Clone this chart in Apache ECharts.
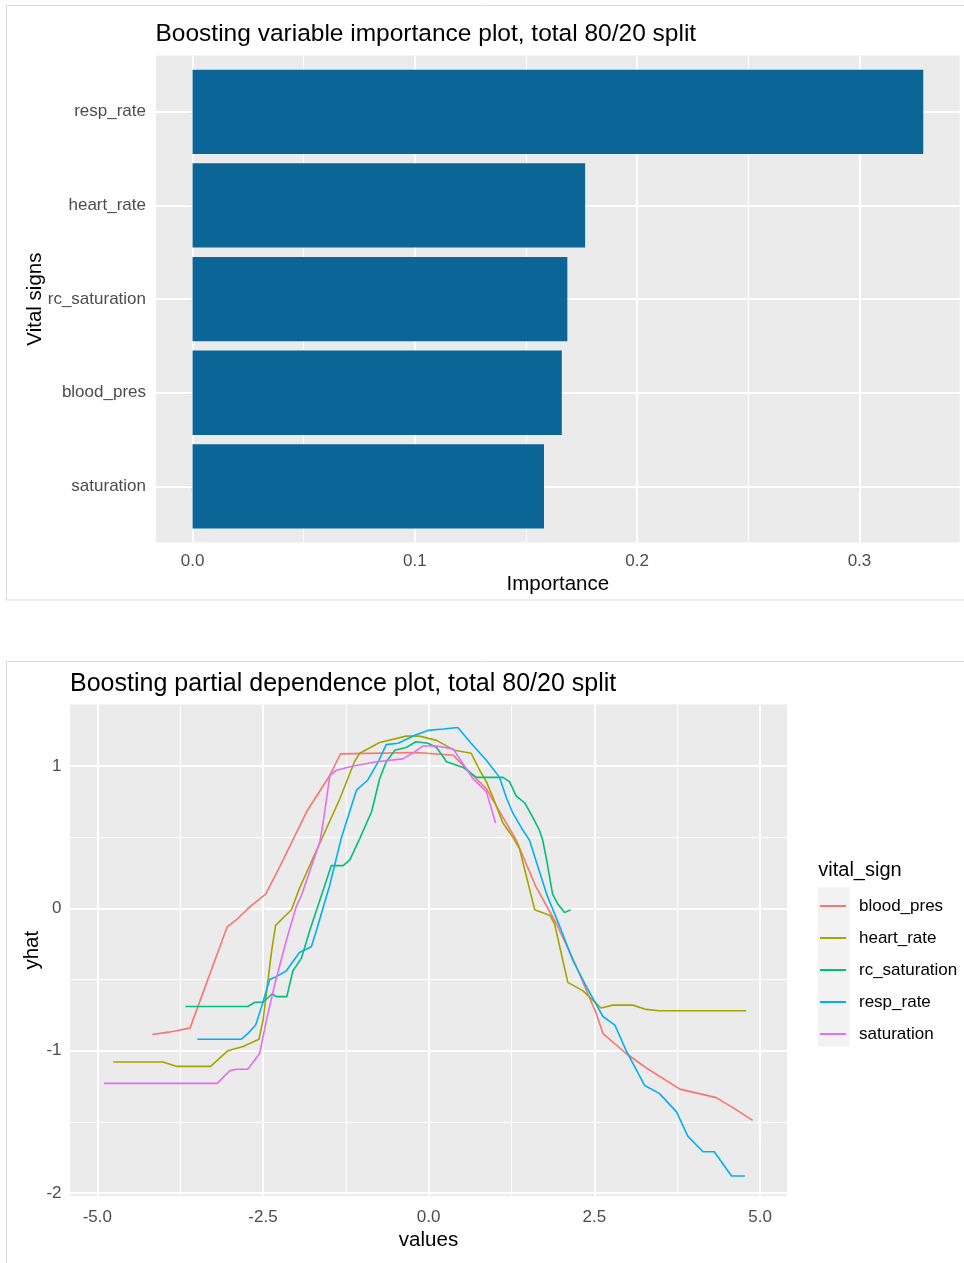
<!DOCTYPE html>
<html><head><meta charset="utf-8">
<script src="https://cdn.jsdelivr.net/npm/echarts@6/dist/echarts.min.js"></script>
<style>html,body{margin:0;padding:0;background:#fff}#c{width:964px;height:1263px}</style>
</head><body><div id="c"></div>
<script>
// ---------- data: variable importance ----------
const categories = ['saturation', 'blood_pres', 'rc_saturation', 'heart_rate', 'resp_rate'];
const importance = [0.1581, 0.1661, 0.1686, 0.1766, 0.3287];
const impMajorTicks = [0, 0.1, 0.2, 0.3];
const impMinorTicks = [0.05, 0.15, 0.25];

// ---------- data: partial dependence ----------
const seriesNames = ['blood_pres', 'heart_rate', 'rc_saturation', 'resp_rate', 'saturation'];
const seriesColors = ['#F8766D', '#A3A500', '#00BF7D', '#00B0F6', '#E76BF3'];
const blood_pres = [[-4.17,-0.886],[-3.93,-0.87],[-3.80,-0.86],[-3.60,-0.84],[-3.04,-0.13],[-2.90,-0.08],[-2.70,0.01],[-2.46,0.10],[-2.25,0.29],[-1.84,0.68],[-1.49,0.935],[-1.33,1.085],[-0.19,1.095],[-0.03,1.09],[0.37,1.076],[0.57,0.98],[0.87,0.84],[1.07,0.68],[1.32,0.48],[1.62,0.15],[1.93,-0.11],[2.23,-0.41],[2.53,-0.74],[2.63,-0.88],[2.98,-1.02],[3.28,-1.12],[3.79,-1.27],[4.34,-1.33],[4.59,-1.40],[4.89,-1.49]];
const heart_rate = [[-4.76,-1.08],[-4.01,-1.08],[-3.81,-1.11],[-3.29,-1.11],[-3.03,-1.00],[-2.80,-0.97],[-2.56,-0.92],[-2.50,-0.79],[-2.37,-0.30],[-2.31,-0.12],[-2.07,-0.01],[-1.95,0.14],[-1.34,0.77],[-1.12,1.03],[-1.04,1.09],[-0.74,1.165],[-0.34,1.21],[-0.14,1.21],[0.12,1.18],[0.39,1.11],[0.64,1.09],[0.77,0.97],[0.87,0.89],[0.97,0.78],[1.12,0.60],[1.27,0.50],[1.37,0.42],[1.60,-0.01],[1.83,-0.05],[1.90,-0.11],[2.10,-0.52],[2.33,-0.58],[2.60,-0.70],[2.78,-0.68],[3.08,-0.68],[3.28,-0.71],[3.48,-0.72],[4.79,-0.72]];
const rc_saturation = [[-3.67,-0.69],[-2.73,-0.69],[-2.62,-0.66],[-2.50,-0.66],[-2.36,-0.60],[-2.30,-0.62],[-2.14,-0.62],[-2.05,-0.44],[-1.92,-0.35],[-1.79,-0.15],[-1.64,0.06],[-1.47,0.30],[-1.29,0.30],[-1.19,0.34],[-1.04,0.49],[-0.86,0.68],[-0.74,0.91],[-0.64,1.03],[-0.51,1.11],[-0.34,1.13],[-0.19,1.17],[-0.01,1.16],[0.12,1.13],[0.27,1.03],[0.52,0.99],[0.72,0.92],[1.12,0.92],[1.22,0.89],[1.32,0.79],[1.45,0.74],[1.57,0.64],[1.67,0.55],[1.72,0.48],[1.78,0.34],[1.87,0.10],[1.95,0.03],[2.05,-0.03],[2.14,-0.01]];
const resp_rate = [[-3.49,-0.92],[-2.83,-0.92],[-2.73,-0.88],[-2.61,-0.82],[-2.52,-0.69],[-2.40,-0.50],[-2.30,-0.48],[-2.15,-0.44],[-1.95,-0.31],[-1.77,-0.27],[-1.69,-0.15],[-1.59,0.01],[-1.50,0.15],[-1.32,0.49],[-1.09,0.83],[-0.92,0.90],[-0.76,1.03],[-0.64,1.15],[-0.46,1.16],[-0.19,1.22],[-0.01,1.25],[0.22,1.26],[0.44,1.27],[0.64,1.16],[0.87,1.04],[1.07,0.92],[1.17,0.78],[1.27,0.67],[1.42,0.55],[1.52,0.48],[1.65,0.29],[1.78,0.10],[1.98,-0.13],[2.18,-0.37],[2.38,-0.55],[2.63,-0.76],[2.81,-0.82],[2.98,-1.00],[3.26,-1.245],[3.48,-1.30],[3.74,-1.43],[3.91,-1.60],[4.14,-1.71],[4.31,-1.71],[4.57,-1.88],[4.77,-1.88]];
const saturation = [[-4.90,-1.23],[-3.19,-1.23],[-3.00,-1.14],[-2.90,-1.13],[-2.73,-1.13],[-2.55,-1.02],[-2.45,-0.79],[-2.32,-0.53],[-2.15,-0.23],[-2.00,0.01],[-1.92,0.09],[-1.64,0.47],[-1.59,0.61],[-1.49,0.935],[-1.39,0.97],[-1.19,0.995],[-0.79,1.03],[-0.39,1.05],[-0.24,1.09],[-0.09,1.14],[0.12,1.14],[0.37,1.12],[0.47,1.05],[0.67,0.91],[0.87,0.82],[1.01,0.60]];
const pdSeriesData = [blood_pres, heart_rate, rc_saturation, resp_rate, saturation];
const pdMajorX = [-5, -2.5, 0, 2.5, 5];
const pdMinorX = [-3.75, -1.25, 1.25, 3.75];
const pdMajorY = [-2, -1, 0, 1];
const pdMinorY = [-1.5, -0.5, 0.5];

// ---------- styling ----------
const FONT = "'Liberation Sans', Arial, sans-serif";
const PANEL = '#EBEBEB';
const TICK = '#333333';
const TICKLAB = '#4D4D4D';

function gridLines(xs, ys) {
  const d = [];
  xs.major.forEach(v => d.push({ xAxis: v, lineStyle: { width: 2 } }));
  xs.minor.forEach(v => d.push({ xAxis: v, lineStyle: { width: 1 } }));
  ys.major.forEach(v => d.push({ yAxis: v, lineStyle: { width: 2 } }));
  ys.minor.forEach(v => d.push({ yAxis: v, lineStyle: { width: 1 } }));
  return d;
}
function gridSeries(xi, yi, data) {
  return {
    type: 'line', data: [], xAxisIndex: xi, yAxisIndex: yi, z: 1, silent: true,
    markLine: {
      z: 1, silent: true, symbol: ['none', 'none'], animation: false,
      label: { show: false }, emphasis: { disabled: true },
      lineStyle: { color: '#FFFFFF', type: 'solid', width: 2, opacity: 1 },
      data: data
    }
  };
}

const chart = echarts.init(document.getElementById('c'), null, { renderer: 'canvas' });

const catCenters = categories.map((c, i) => i);

const option = {
  animation: false,
  backgroundColor: '#FFFFFF',
  textStyle: { fontFamily: FONT },
  title: [
    { text: 'Boosting variable importance plot, total 80/20 split', left: 155.5, top: 21.5, padding: 0,
      textStyle: { fontSize: 24.5, fontWeight: 'normal', color: '#000', fontFamily: FONT, lineHeight: 24.5 } },
    { text: 'Boosting partial dependence plot, total 80/20 split', left: 70, top: 672, padding: 0,
      textStyle: { fontSize: 25, fontWeight: 'normal', color: '#000', fontFamily: FONT, lineHeight: 25 } }
  ],
  graphic: [
    { type: 'rect', z: -10, shape: { x: 6.5, y: 5.5, width: 980, height: 594.5 }, style: { fill: 'none', stroke: '#DADADA', lineWidth: 1 } },
    { type: 'rect', z: -10, shape: { x: 6.5, y: 661.5, width: 980, height: 700 }, style: { fill: 'none', stroke: '#DADADA', lineWidth: 1 } },
    { type: 'rect', z: -5, shape: { x: 817.7, y: 887.5, width: 31.7, height: 159 }, style: { fill: '#F2F2F2' } },
    { type: 'text', z: 5, style: { text: 'vital_sign', x: 818.3, y: 870, fill: '#000', font: "20px 'Liberation Sans', Arial, sans-serif", textVerticalAlign: 'middle', verticalAlign: 'middle' } }
  ],
  grid: [
    { left: 156, top: 55.6, width: 803.7, height: 487, show: true, backgroundColor: PANEL, borderWidth: 0 },
    { left: 156, top: 55.6 + 487 / 5.2 * 0.1, width: 803.7, height: 487 / 5.2 * 5, show: false },
    { left: 70, top: 704.5, width: 717, height: 491.5, show: true, backgroundColor: PANEL, borderWidth: 0 }
  ],
  xAxis: [
    { type: 'value', gridIndex: 0, min: -0.01644, max: 0.3451,
      splitLine: { show: false }, axisLine: { show: false },
      axisTick: { show: true, length: 5, customValues: impMajorTicks, lineStyle: { color: TICK, width: 1.1 } },
      axisLabel: { show: true, customValues: impMajorTicks, margin: 10.5, fontSize: 17, color: TICKLAB, fontFamily: FONT, formatter: v => v.toFixed(1) },
      name: 'Importance', nameLocation: 'middle', nameGap: 31, nameMoveOverlap: false,
      nameTextStyle: { fontSize: 20.5, color: '#000', fontFamily: FONT, lineHeight: 20.5 } },
    { type: 'value', gridIndex: 1, min: -0.01644, max: 0.3451, show: false },
    { type: 'value', gridIndex: 2, min: -5.412, max: 5.407,
      splitLine: { show: false }, axisLine: { show: false },
      axisTick: { show: true, length: 5, customValues: pdMajorX, lineStyle: { color: TICK, width: 1.1 } },
      axisLabel: { show: true, customValues: pdMajorX, margin: 13, fontSize: 17, color: TICKLAB, fontFamily: FONT, formatter: v => v.toFixed(1) },
      name: 'values', nameLocation: 'middle', nameGap: 34, nameMoveOverlap: false,
      nameTextStyle: { fontSize: 20.5, color: '#000', fontFamily: FONT, lineHeight: 20.5 } }
  ],
  yAxis: [
    { type: 'value', gridIndex: 0, min: -0.6, max: 4.6, show: false },
    { type: 'category', gridIndex: 1, data: categories,
      splitLine: { show: false }, axisLine: { show: false },
      axisTick: { show: true, length: 5, alignWithLabel: true, lineStyle: { color: TICK, width: 1.1 } },
      axisLabel: { margin: 10, fontSize: 17, color: TICKLAB, fontFamily: FONT },
      name: 'Vital signs', nameLocation: 'middle', nameGap: 110, nameRotate: 90, nameMoveOverlap: false,
      nameTextStyle: { fontSize: 20.5, color: '#000', fontFamily: FONT, lineHeight: 20.5 } },
    { type: 'value', gridIndex: 2, min: -2.021, max: 1.432,
      splitLine: { show: false }, axisLine: { show: false },
      axisTick: { show: true, length: 5, customValues: pdMajorY, lineStyle: { color: TICK, width: 1.1 } },
      axisLabel: { show: true, customValues: pdMajorY, margin: 8.5, fontSize: 17, color: TICKLAB, fontFamily: FONT, formatter: v => String(v) },
      name: 'yhat', nameLocation: 'middle', nameGap: 27, nameRotate: 90, nameMoveOverlap: false,
      nameTextStyle: { fontSize: 20.5, color: '#000', fontFamily: FONT, lineHeight: 20.5 } }
  ],
  legend: {
    orient: 'vertical', left: 820, top: 897, padding: 0,
    itemWidth: 26, itemHeight: 2, itemGap: 14, icon: 'rect', selectedMode: false,
    textStyle: { fontSize: 17, color: '#000', fontFamily: FONT, lineHeight: 18, padding: [0, 0, 0, 8] },
    data: seriesNames
  },
  series: [
    gridSeries(0, 0, gridLines({ major: impMajorTicks, minor: impMinorTicks }, { major: catCenters, minor: [] })),
    { type: 'bar', name: 'importance', xAxisIndex: 1, yAxisIndex: 1, data: importance, z: 3,
      barCategoryGap: '10%', itemStyle: { color: '#0B6596' }, silent: true },
    gridSeries(2, 2, gridLines({ major: pdMajorX, minor: pdMinorX }, { major: pdMajorY, minor: pdMinorY })),
    ...seriesNames.map((n, i) => ({
      type: 'line', name: n, xAxisIndex: 2, yAxisIndex: 2, data: pdSeriesData[i], z: 3,
      color: seriesColors[i], showSymbol: false, symbol: 'none', silent: true,
      lineStyle: { width: 1.6, color: seriesColors[i] }
    }))
  ]
};
chart.setOption(option);
</script></body></html>
